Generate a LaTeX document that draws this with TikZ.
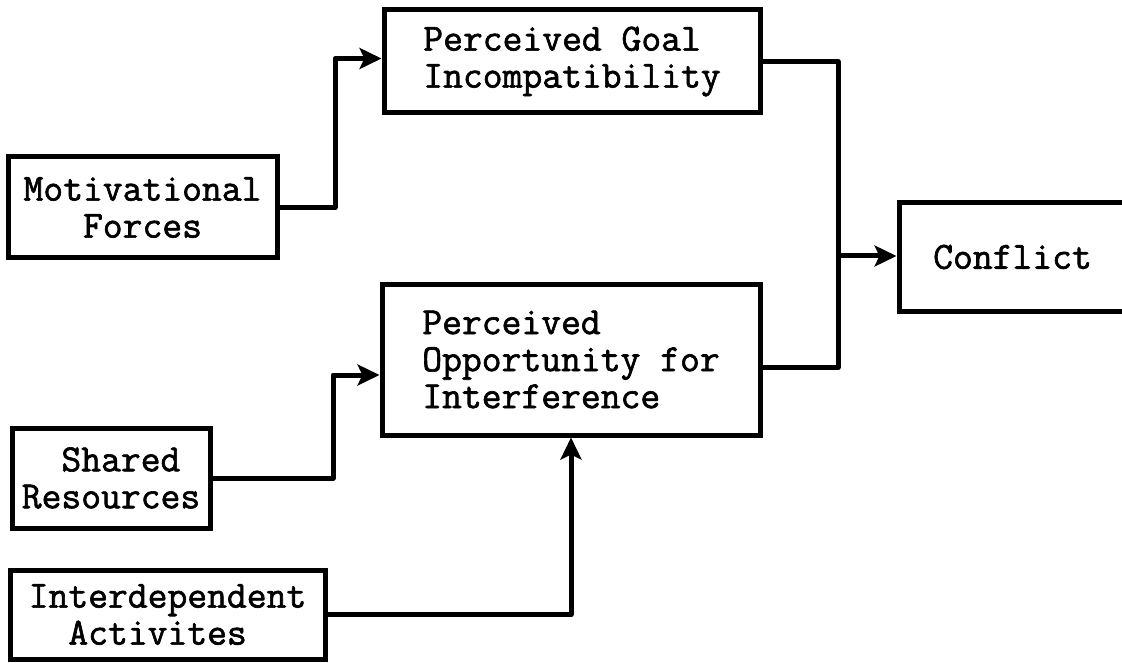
\documentclass[tikz,border=0pt]{standalone}
\usepackage{fontspec}
\setmonofont[AutoFakeBold=1.6]{Latin Modern Mono}
\usetikzlibrary{arrows.meta}
\begin{document}
\begin{tikzpicture}[x=1pt,y=-1pt,
  box/.style={draw=black, line width=5pt, inner sep=0pt, align=left,
    font=\ttfamily\bfseries\fontsize{38.5}{37}\selectfont},
  conn/.style={draw=black, line width=5pt, line join=round},
  arr/.style={conn, -{Stealth[length=22pt,width=21pt,inset=5pt]}}]
\useasboundingbox (0,0) rectangle (1122,663);
\clip (0,0) rectangle (1122,663);
\node[box, minimum width=376pt, minimum height=103pt] (PGI) at (572,61.5)
  {Perceived Goal\\Incompatibility};
\node[box, minimum width=269pt, minimum height=101pt, align=center] (M) at (142.5,207.5)
  {Motivational\\Forces};
\node[box, minimum width=227pt, minimum height=108pt] (C) at (1012.5,257)
  {Conflict};
\node[box, minimum width=378pt, minimum height=151pt] (POI) at (571,359.5)
  {Perceived\\Opportunity for\\Interference};
\node[box, minimum width=198pt, minimum height=100pt] (S) at (111,478)
  {~~Shared\\Resources};
\node[box, minimum width=315pt, minimum height=89pt] (I) at (167.5,614.5)
  {Interdependent\\~~Activites};
\coordinate (J) at (838,256);
\draw[arr] (M.east) -- (335,207.5) |- ([yshift=3pt]PGI.west);
\draw[arr] (S.east) -- (333,478) |- ([yshift=-15.5pt]POI.west);
\draw[arr] (I.east) -| (POI.south);
\draw[conn] (PGI.east) -| (J) |- ([yshift=-8pt]POI.east);
\draw[arr] (J) -- (J -| C.west);
\end{tikzpicture}
\end{document}
